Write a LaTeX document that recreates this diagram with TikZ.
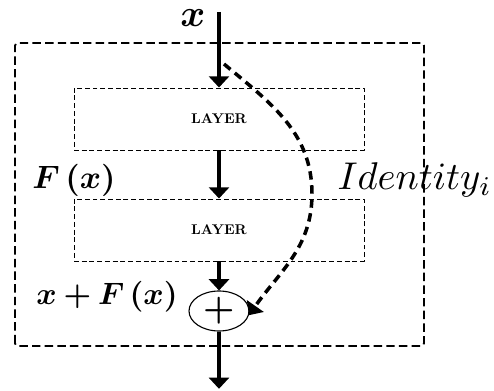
\documentclass[tikz,border=0pt]{standalone}
\usepackage{amsmath,amssymb,bm}
\usetikzlibrary{arrows.meta,shapes.geometric}

\begin{document}
\begin{tikzpicture}[line cap=butt, line join=round, >={Triangle[length=2.8mm,width=5mm]},
    layerbox/.style={draw, line width=0.7pt, dash pattern=on 3.5pt off 2pt,
      minimum width=7.25cm, minimum height=1.55cm, inner sep=0pt,
      font=\bfseries\normalsize},
    sumnode/.style={ellipse, draw, line width=0.8pt, minimum width=1.5cm,
      minimum height=1.0cm, inner sep=0pt},
    flow/.style={->, line width=3pt},
    shortcut/.style={->, line width=2.5pt, dash pattern=on 6pt off 4pt}]
  \useasboundingbox (0,0) rectangle (12.35,9.75);

  % Outer residual block
  \draw[line width=1.3pt, dash pattern=on 6pt off 3pt, rounded corners=2pt]
    (0.375,1.1) rectangle (10.6,8.675);

  % Input, two layers, sum and output
  \coordinate (xin) at (5.475,9.45);
  \node[layerbox] (L1) at (5.475,6.775) {LAYER};
  \node[layerbox] (L2) at (5.475,4.0) {LAYER};
  \node[sumnode] (sum) at (5.475,1.975) {\scalebox{2.5}{\textbf{+}}};
  \coordinate (xout) at (5.475,0.03);

  \draw[flow] (xin) -- (L1.north);
  \draw[flow] (L1.south) -- (L2.north);
  \draw[flow] (L2.south) -- (sum.north);
  \draw[flow] (sum.south) -- (xout);

  % Identity shortcut
  \coordinate (skipstart) at (5.6,8.15);
  \coordinate (skipbend) at (7.8,4.9);
  \draw[shortcut] (skipstart) to[out=-40,in=90] (skipbend) to[out=-90,in=55] (sum.352);

  % Labels
  \node[scale=2.7, inner sep=0pt] (xlab) at (4.825,9.3) {$\bm{x}$};
  \node[scale=2.3] (Flab) at (1.85,5.25) {$\bm{F\left(x\right)}$};
  \node[scale=2.2] (sumlab) at (2.675,2.33) {$\bm{x+F\left(x\right)}$};
  \node[anchor=west, inner sep=0pt, scale=2.75] (idlab) at (8.42,5.25) {$Identity_i$};
\end{tikzpicture}
\end{document}
